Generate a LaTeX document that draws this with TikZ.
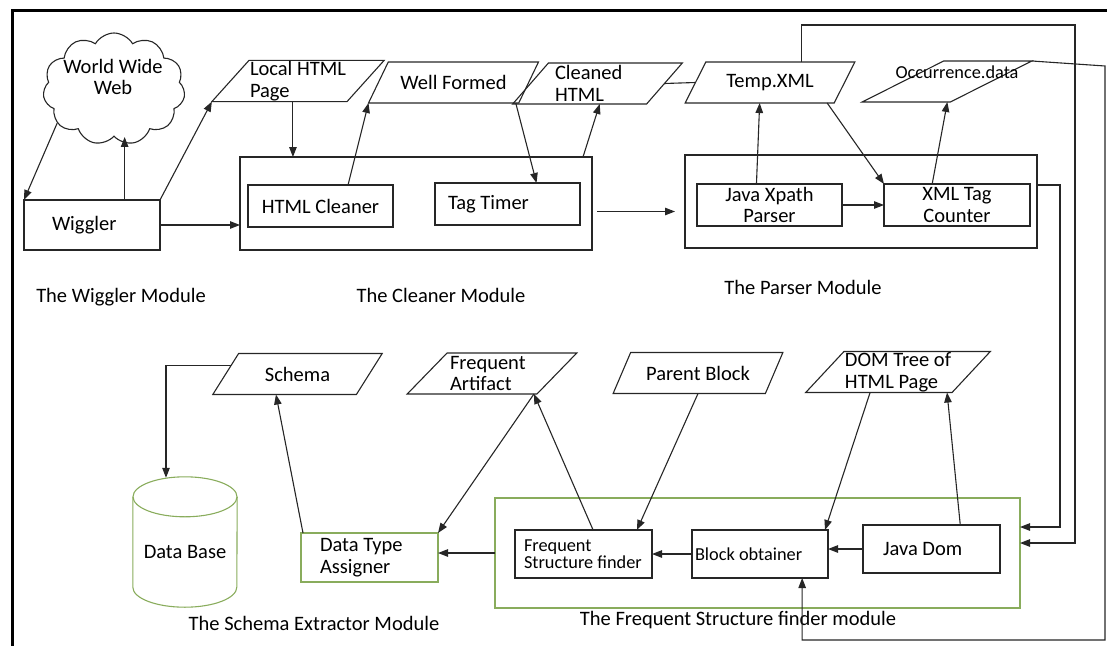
\documentclass[tikz,border=0pt]{standalone}
\usepackage{fontspec}
\setmainfont{Carlito}
\usetikzlibrary{shapes.geometric,shapes.symbols,arrows.meta,calc}
\definecolor{grn}{RGB}{137,172,92}
\begin{document}
\begin{tikzpicture}[x=1pt,y=-1pt,
  font=\fontsize{20.5}{21.5}\selectfont,
  ln/.style={line width=1.1pt, draw=black!85},
  arr/.style={ln, -{Triangle[length=10pt,width=7.5pt]}},
  box/.style={ln, rectangle, inner sep=0pt, outer sep=0pt, align=center},
  gbox/.style={box, draw=grn},
  tw/.style={text width=#1, align=flush left},
  para/.style={ln, trapezium, trapezium stretches=true, trapezium left angle=#1, trapezium right angle={\the\numexpr180-#1\relax}, inner sep=1pt, outer sep=0pt, align=left, minimum width=170pt, minimum height=41pt},
  para/.default=48,
  small/.style={font=\fontsize{18.3}{16.5}\selectfont},
  lbl/.style={inner sep=0pt, align=center}]
\useasboundingbox (0,0) rectangle (1107,645);
% frame
\draw[line width=3pt, line cap=rect] (12,645) -- (12,10) -- (1107,10);
% ---- top row ----
\node[ln, cloud, cloud puffs=11, cloud puff arc=120, aspect=1.27, minimum width=142pt, minimum height=112pt, inner sep=1pt] (www) at (114,89) {};
\node[lbl] (wwwt) at (113,77) {World Wide\\Web};
\node[box, minimum width=136pt, minimum height=50pt, tw=80pt] (wig) at (92,225) {Wiggler};
\node[para=48] (lhp) at (298,81) {Local HTML\\Page};
\node[box, minimum width=352pt, minimum height=93pt] (cln) at (416,203.5) {};
\node[box, minimum width=145pt, minimum height=42pt] (hc) at (320.5,206) {HTML Cleaner};
\node[box, minimum width=145pt, minimum height=42pt, tw=119pt] (tt) at (507.5,204) {Tag Timer};
\node[para=45] (wf) at (453.5,82.5) {Well Formed};
\node[para=50, tw=85pt] (ch) at (597.5,83.5) {Cleaned\\HTML};
\node[para=52] (tx) at (770,82.5) {Temp.XML};
\node[para=44] (oc) at (947,81.5) {\strut};
\node[small, inner sep=0pt] (oct) at (957,72) {Occurrence.data};
\node[box, minimum width=352pt, minimum height=93pt] (prs) at (861,201.5) {};
\node[box, minimum width=145pt, minimum height=42pt] (jx) at (769.5,205) {Java Xpath\\Parser};
\node[box, minimum width=146pt, minimum height=42pt] (xt) at (957,205) {XML Tag\\Counter};
\node[lbl] (wigm) at (121,297) {The Wiggler Module};
\node[lbl] (clnm) at (441,295) {The Cleaner Module};
\node[lbl] (prsm) at (803,287) {The Parser Module};
% ---- bottom row ----
\node[para=48] (sch) at (297.5,374) {Schema};
\node[para=44, tw=84pt] (fa) at (492,373.5) {Frequent\\Artifact};
\node[para=50] (pb) at (698,373) {Parent Block};
\node[para=47] (dom) at (898,372) {DOM Tree of\\HTML Page};
\node[inner sep=0pt, minimum width=104pt, minimum height=110pt] (db) at (185,552) {Data Base};
\draw[ln, draw=grn] (db.north west) -- ($(db.south west)+(0,-20)$) arc[start angle=180,end angle=360,x radius=52pt,y radius=20pt] -- (db.north east);
\draw[ln, draw=grn] (db.north) ellipse[x radius=52pt, y radius=20pt];
\node[gbox, minimum width=137pt, minimum height=49pt, tw=99pt] (dta) at (369.5,557.5) {Data Type\\Assigner};
\node[gbox, minimum width=525pt, minimum height=110pt] (fsm) at (757.5,553) {};
\node[box, small, minimum width=137pt, minimum height=48pt, tw=119pt] (fsf) at (583.5,554) {Frequent\\Structure finder};
\node[box, small, minimum width=136pt, minimum height=48pt, tw=130pt] (bo) at (760,554) {Block obtainer};
\node[box, minimum width=137pt, minimum height=48pt, tw=97pt] (jd) at (931.5,549) {Java Dom};
\node[lbl] (schm) at (314,623) {The Schema Extractor Module};
\node[lbl] (fsmm) at (738,620) {The Frequent Structure finder module};
% lanes
\coordinate (laneA) at (1060,185);
\coordinate (laneB) at (1075,25);
\coordinate (laneC) at (1105,66);
\coordinate (laneD) at (1105,640);
% ---- connectors top ----
\draw[arr] (www.211) -- (wig.north west);
\draw[arr] ($(wig.north west)!0.74!(wig.north east)$) coordinate (w1) -- (w1 |- www.south);
\draw[arr] (wig.north east) -- (lhp.bottom left corner);
\draw[arr] (wig.east) -- (wig.east -| cln.west);
\draw[arr] ($(lhp.bottom left corner)!0.6!(lhp.bottom right corner)$) coordinate (l1) -- (l1 |- cln.north);
\draw[arr] ($(hc.north west)!0.69!(hc.north east)$) -- (wf.bottom left corner);
\draw[arr] ($(wf.bottom right corner)+(-3,0)$) -- ($(tt.north west)!0.7!(tt.north east)$);
\draw[arr] ($(cln.north east)+(-9,0)$) -- ($(ch.bottom left corner)!0.65!(ch.bottom right corner)$);
\draw[ln] (ch.east) -- (tx.west);
\draw[arr, shorten >=10pt, shorten <=5pt] ($(cln.east)+(0,8)$) -- ($(prs.west)+(0,10)$);
\draw[arr] ($(jx.north west)!0.41!(jx.north east)$) -- ($(tx.bottom left corner)!0.5!(tx.bottom right corner)$);
\draw[arr] ($(tx.bottom right corner)+(-7,0)$) -- (xt.north west);
\draw[arr] (jx.east) -- (xt.west);
\draw[arr] ($(xt.north west)!0.33!(xt.north east)$) -- ($(oc.bottom right corner)+(-3,0)$);
\draw[arr] ($(tx.top left corner)!0.64!(tx.top right corner)$) |- (laneB) |- ($(fsm.east)+(0,-10)$);
\draw[arr] (prs.east |- laneA) -- (laneA) |- ($(fsm.east)+(0,-26)$);
\draw[arr] (oc.top right corner) -- (laneC) -- (laneD) -| ($(bo.south west)!0.81!(bo.south east)$);
% ---- connectors bottom ----
\draw[arr] ($(fsf.north west)!0.57!(fsf.north east)$) -- ($(fa.bottom right corner)+(-3,0)$);
\draw[arr] ($(fa.bottom right corner)+(-3,0)$) -- (dta.north east);
\draw[arr] (fsm.west) -- (fsm.west -| dta.east);
\draw[arr] (pb.south) -- ($(fsf.north west)!0.89!(fsf.north east)$);
\draw[arr] (bo.west) -- (fsf.east);
\draw[arr] ($(dom.bottom left corner)!0.44!(dom.bottom right corner)$) -- ($(bo.north east)+(-3,0)$);
\draw[arr] ($(jd.north west)!0.71!(jd.north east)$) -- ($(dom.bottom right corner)+(-5,0)$);
\draw[arr] (jd.west) -- (jd.west -| bo.east);
\draw[arr] ($(dta.north west)+(2,0)$) -- ($(sch.bottom left corner)!0.44!(sch.bottom right corner)$);
\draw[arr] ($(sch.top left corner)!0.3!(sch.bottom left corner)$) -| ($(db.north)+(-19,-19)$);
\end{tikzpicture}
\end{document}
